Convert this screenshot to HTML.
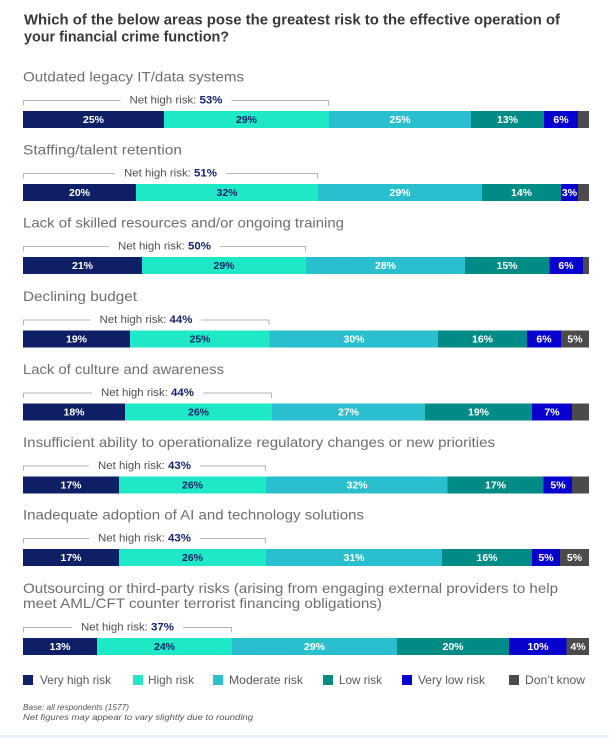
<!DOCTYPE html>
<html><head><meta charset="utf-8"><style>
html,body{margin:0;padding:0;background:#fff;}
svg{display:block;}
text{font-family:"Liberation Sans",sans-serif;}
.t{font-weight:bold;fill:#383838;font-size:14.5px;}
.lb{fill:#6e6e6e;font-size:14px;}
.nl{fill:#505050;font-size:11px;}
.nv{fill:#16246a;font-weight:bold;}
.sv{font-weight:bold;font-size:10.5px;fill:#fff;text-anchor:middle;}
.sd{font-weight:bold;font-size:10.5px;fill:#16246a;text-anchor:middle;}
.br{stroke:#b5b5b5;stroke-width:1;fill:none;}
.lg{fill:#5a5a5a;font-size:12px;}
.ft{fill:#555;font-size:8px;font-style:italic;}
</style></head><body>
<svg width="609" height="738" viewBox="0 0 609 738" xmlns="http://www.w3.org/2000/svg">
<rect x="0" y="0" width="609" height="738" fill="#fff"/>
<rect x="0" y="735" width="609" height="3" fill="#ecf4fb"/>

<text class="t" x="24" y="24.3" textLength="536" lengthAdjust="spacingAndGlyphs">Which of the below areas pose the greatest risk to the effective operation of</text>
<text class="t" x="24" y="41.7" textLength="205" lengthAdjust="spacingAndGlyphs">your financial crime function?</text>

<!-- Bar 1 -->
<text class="lb" x="23" y="81.5" textLength="221" lengthAdjust="spacingAndGlyphs">Outdated legacy IT/data systems</text>
<path class="br" d="M23.5,105.5 V100.5 H120.5 M231.5,100.5 H328.5 V105.5"/>
<text class="nl" x="129.5" y="103.5" textLength="93" lengthAdjust="spacingAndGlyphs">Net high risk: <tspan class="nv">53%</tspan></text>
<g>
<rect x="23" y="111" width="141" height="17" fill="#0f1f66"/>
<rect x="164" y="111" width="165" height="17" fill="#1ee8c6"/>
<rect x="329" y="111" width="142" height="17" fill="#2abfcf"/>
<rect x="471" y="111" width="73" height="17" fill="#008b87"/>
<rect x="544" y="111" width="34" height="17" fill="#0800cc"/>
<rect x="578" y="111" width="11" height="17" fill="#4b4b4b"/>
<text class="sv" x="93.5" y="123.2">25%</text>
<text class="sd" x="246.5" y="123.2">29%</text>
<text class="sv" x="400" y="123.2">25%</text>
<text class="sv" x="507.5" y="123.2">13%</text>
<text class="sv" x="561" y="123.2">6%</text>
</g>

<!-- Bar 2 -->
<text class="lb" x="23" y="154.5" textLength="159" lengthAdjust="spacingAndGlyphs">Staffing/talent retention</text>
<path class="br" d="M23.5,178.5 V173.5 H115 M226,173.5 H317.5 V178.5"/>
<text class="nl" x="124" y="176.5" textLength="93" lengthAdjust="spacingAndGlyphs">Net high risk: <tspan class="nv">51%</tspan></text>
<g>
<rect x="23" y="184" width="113" height="17" fill="#0f1f66"/>
<rect x="136" y="184" width="182" height="17" fill="#1ee8c6"/>
<rect x="318" y="184" width="164" height="17" fill="#2abfcf"/>
<rect x="482" y="184" width="79" height="17" fill="#008b87"/>
<rect x="561" y="184" width="17" height="17" fill="#0800cc"/>
<rect x="578" y="184" width="11" height="17" fill="#4b4b4b"/>
<text class="sv" x="79.5" y="196.2">20%</text>
<text class="sd" x="227" y="196.2">32%</text>
<text class="sv" x="400" y="196.2">29%</text>
<text class="sv" x="521.5" y="196.2">14%</text>
<text class="sv" x="569.5" y="196.2">3%</text>
</g>

<!-- Bar 3 -->
<text class="lb" x="23" y="227.5" textLength="321" lengthAdjust="spacingAndGlyphs">Lack of skilled resources and/or ongoing training</text>
<path class="br" d="M23.5,251.5 V246.5 H109 M220,246.5 H305.5 V251.5"/>
<text class="nl" x="118" y="249.5" textLength="93" lengthAdjust="spacingAndGlyphs">Net high risk: <tspan class="nv">50%</tspan></text>
<g>
<rect x="23" y="257" width="119" height="17" fill="#0f1f66"/>
<rect x="142" y="257" width="164" height="17" fill="#1ee8c6"/>
<rect x="306" y="257" width="159" height="17" fill="#2abfcf"/>
<rect x="465" y="257" width="84.5" height="17" fill="#008b87"/>
<rect x="549.5" y="257" width="33.5" height="17" fill="#0800cc"/>
<rect x="583" y="257" width="6" height="17" fill="#4b4b4b"/>
<text class="sv" x="82.5" y="269.2">21%</text>
<text class="sd" x="224" y="269.2">29%</text>
<text class="sv" x="385.5" y="269.2">28%</text>
<text class="sv" x="507" y="269.2">15%</text>
<text class="sv" x="566" y="269.2">6%</text>
</g>

<!-- Bar 4 -->
<text class="lb" x="23" y="301" textLength="114" lengthAdjust="spacingAndGlyphs">Declining budget</text>
<path class="br" d="M23.5,325 V320 H90.5 M201.5,320 H269 V325"/>
<text class="nl" x="99.5" y="323" textLength="93" lengthAdjust="spacingAndGlyphs">Net high risk: <tspan class="nv">44%</tspan></text>
<g>
<rect x="23" y="330.5" width="107" height="17" fill="#0f1f66"/>
<rect x="130" y="330.5" width="139.5" height="17" fill="#1ee8c6"/>
<rect x="269.5" y="330.5" width="168.5" height="17" fill="#2abfcf"/>
<rect x="438" y="330.5" width="89" height="17" fill="#008b87"/>
<rect x="527" y="330.5" width="34" height="17" fill="#0800cc"/>
<rect x="561" y="330.5" width="28" height="17" fill="#4b4b4b"/>
<text class="sv" x="76.5" y="342.7">19%</text>
<text class="sd" x="200" y="342.7">25%</text>
<text class="sv" x="354" y="342.7">30%</text>
<text class="sv" x="482.5" y="342.7">16%</text>
<text class="sv" x="544" y="342.7">6%</text>
<text class="sv" x="575" y="342.7">5%</text>
</g>

<!-- Bar 5 -->
<text class="lb" x="23" y="374" textLength="201" lengthAdjust="spacingAndGlyphs">Lack of culture and awareness</text>
<path class="br" d="M23.5,398 V393 H92 M203,393 H271.5 V398"/>
<text class="nl" x="101" y="396" textLength="93" lengthAdjust="spacingAndGlyphs">Net high risk: <tspan class="nv">44%</tspan></text>
<g>
<rect x="23" y="403.5" width="102" height="17" fill="#0f1f66"/>
<rect x="125" y="403.5" width="147" height="17" fill="#1ee8c6"/>
<rect x="272" y="403.5" width="153" height="17" fill="#2abfcf"/>
<rect x="425" y="403.5" width="107" height="17" fill="#008b87"/>
<rect x="532" y="403.5" width="40" height="17" fill="#0800cc"/>
<rect x="572" y="403.5" width="17" height="17" fill="#4b4b4b"/>
<text class="sv" x="74" y="415.7">18%</text>
<text class="sd" x="198.5" y="415.7">26%</text>
<text class="sv" x="348.5" y="415.7">27%</text>
<text class="sv" x="478.5" y="415.7">19%</text>
<text class="sv" x="552" y="415.7">7%</text>
</g>

<!-- Bar 6 -->
<text class="lb" x="23" y="447" textLength="472" lengthAdjust="spacingAndGlyphs">Insufficient ability to operationalize regulatory changes or new priorities</text>
<path class="br" d="M23.5,471 V466 H89 M200,466 H265.5 V471"/>
<text class="nl" x="98" y="469" textLength="93" lengthAdjust="spacingAndGlyphs">Net high risk: <tspan class="nv">43%</tspan></text>
<g>
<rect x="23" y="476.5" width="96" height="17" fill="#0f1f66"/>
<rect x="119" y="476.5" width="147" height="17" fill="#1ee8c6"/>
<rect x="266" y="476.5" width="181.5" height="17" fill="#2abfcf"/>
<rect x="447.5" y="476.5" width="96" height="17" fill="#008b87"/>
<rect x="543.5" y="476.5" width="28.5" height="17" fill="#0800cc"/>
<rect x="572" y="476.5" width="17" height="17" fill="#4b4b4b"/>
<text class="sv" x="71" y="488.7">17%</text>
<text class="sd" x="192.5" y="488.7">26%</text>
<text class="sv" x="357" y="488.7">32%</text>
<text class="sv" x="495.5" y="488.7">17%</text>
<text class="sv" x="558" y="488.7">5%</text>
</g>

<!-- Bar 7 -->
<text class="lb" x="23" y="519.5" textLength="341" lengthAdjust="spacingAndGlyphs">Inadequate adoption of AI and technology solutions</text>
<path class="br" d="M23.5,543.5 V538.5 H89 M200,538.5 H265.5 V543.5"/>
<text class="nl" x="98" y="541.5" textLength="93" lengthAdjust="spacingAndGlyphs">Net high risk: <tspan class="nv">43%</tspan></text>
<g>
<rect x="23" y="549" width="96" height="17" fill="#0f1f66"/>
<rect x="119" y="549" width="147" height="17" fill="#1ee8c6"/>
<rect x="266" y="549" width="176" height="17" fill="#2abfcf"/>
<rect x="442" y="549" width="90" height="17" fill="#008b87"/>
<rect x="532" y="549" width="28" height="17" fill="#0800cc"/>
<rect x="560" y="549" width="29" height="17" fill="#4b4b4b"/>
<text class="sv" x="71" y="561.2">17%</text>
<text class="sd" x="192.5" y="561.2">26%</text>
<text class="sv" x="354" y="561.2">31%</text>
<text class="sv" x="487" y="561.2">16%</text>
<text class="sv" x="546" y="561.2">5%</text>
<text class="sv" x="574.5" y="561.2">5%</text>
</g>

<!-- Bar 8 -->
<text class="lb" x="23" y="593" textLength="535" lengthAdjust="spacingAndGlyphs">Outsourcing or third-party risks (arising from engaging external providers to help</text>
<text class="lb" x="23" y="608" textLength="359" lengthAdjust="spacingAndGlyphs">meet AML/CFT counter terrorist financing obligations)</text>
<path class="br" d="M23.5,632.5 V627.5 H72 M183,627.5 H231.5 V632.5"/>
<text class="nl" x="81" y="630.5" textLength="93" lengthAdjust="spacingAndGlyphs">Net high risk: <tspan class="nv">37%</tspan></text>
<g>
<rect x="23" y="638" width="74" height="17" fill="#0f1f66"/>
<rect x="97" y="638" width="135" height="17" fill="#1ee8c6"/>
<rect x="232" y="638" width="165" height="17" fill="#2abfcf"/>
<rect x="397" y="638" width="112" height="17" fill="#008b87"/>
<rect x="509" y="638" width="57.5" height="17" fill="#0800cc"/>
<rect x="566.5" y="638" width="22.5" height="17" fill="#4b4b4b"/>
<text class="sv" x="60" y="650.2">13%</text>
<text class="sd" x="164.5" y="650.2">24%</text>
<text class="sv" x="314.5" y="650.2">29%</text>
<text class="sv" x="453" y="650.2">20%</text>
<text class="sv" x="538" y="650.2">10%</text>
<text class="sv" x="578" y="650.2">4%</text>
</g>

<!-- Legend -->
<rect x="23" y="675" width="10" height="10" fill="#0f1f66"/>
<text class="lg" x="40" y="684" textLength="71" lengthAdjust="spacingAndGlyphs">Very high risk</text>
<rect x="133" y="675" width="10" height="10" fill="#1ee8c6"/>
<text class="lg" x="148" y="684" textLength="46" lengthAdjust="spacingAndGlyphs">High risk</text>
<rect x="213" y="675" width="10" height="10" fill="#2abfcf"/>
<text class="lg" x="229" y="684" textLength="74" lengthAdjust="spacingAndGlyphs">Moderate risk</text>
<rect x="323" y="675" width="10" height="10" fill="#008b87"/>
<text class="lg" x="339" y="684" textLength="43" lengthAdjust="spacingAndGlyphs">Low risk</text>
<rect x="402" y="675" width="10" height="10" fill="#0800cc"/>
<text class="lg" x="418" y="684" textLength="67" lengthAdjust="spacingAndGlyphs">Very low risk</text>
<rect x="509" y="675" width="10" height="10" fill="#4b4b4b"/>
<text class="lg" x="525" y="684" textLength="60" lengthAdjust="spacingAndGlyphs">Don’t know</text>

<!-- Footnote -->
<text class="ft" x="23" y="710" textLength="106" lengthAdjust="spacingAndGlyphs">Base: all respondents (1577)</text>
<text class="ft" x="23" y="720" textLength="230" lengthAdjust="spacingAndGlyphs">Net figures may appear to vary slightly due to rounding</text>
</svg>
</body></html>
